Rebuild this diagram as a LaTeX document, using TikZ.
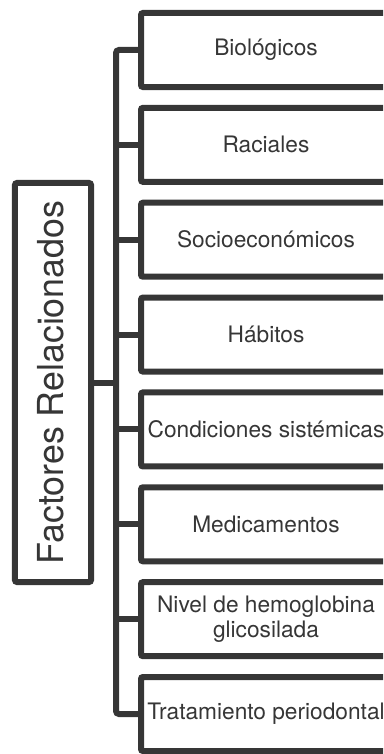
\documentclass[tikz,border=0pt]{standalone}
\usepackage{fontspec}
\setmainfont{TeX Gyre Heros}
\definecolor{ink}{HTML}{363636}
\begin{document}
\begin{tikzpicture}[x=1bp,y=-1bp,
  catbox/.style={draw=ink, line width=6bp, rounded corners=2bp, minimum width=250bp, minimum height=74bp, text=ink, align=center, inner sep=0pt, font=\fontsize{22.7bp}{25bp}\selectfont},
  mainbox/.style={draw=ink, line width=6bp, rounded corners=2bp, minimum width=76bp, minimum height=399bp, inner sep=0pt},
  maintext/.style={rotate=90, text=ink, inner sep=0pt, font=\fontsize{35.8bp}{40bp}\selectfont},
  link/.style={draw=ink, line width=6bp, rounded corners=3bp}]
\useasboundingbox (0,0) rectangle (383,754);
\clip (0,0) rectangle (383,754);
\coordinate (trunk) at (116,0);
\node[mainbox] (main) at (53,382.5) {};
\node[maintext] (mtext) at (50.5,382.5) {Factores Relacionados};
\node[catbox] (b1) at (266,50) {Biológicos};
\node[catbox] (b2) at (266,144.86) {Raciales};
\node[catbox] (b3) at (266,239.71) {Socioeconómicos};
\node[catbox] (b4) at (266,334.57) {Hábitos};
\node[catbox] (b5) at (266,429.43) {Condiciones sistémicas};
\node[catbox] (b6) at (266,524.29) {Medicamentos};
\node[catbox] (b7) at (266,619.14) {Nivel de hemoglobina\\glicosilada};
\node[catbox] (b8) at (266,714) {Tratamiento periodontal};
\draw[link] (b1.west) -- (b1.west -| trunk) -- (b8.west -| trunk) -- (b8.west);
\foreach \b in {b2,b3,b4,b5,b6,b7} {
  \draw[link] (\b.west -| trunk) -- (\b.west);
}
\draw[link] (main.east) -- (main.east -| trunk);
\end{tikzpicture}
\end{document}
